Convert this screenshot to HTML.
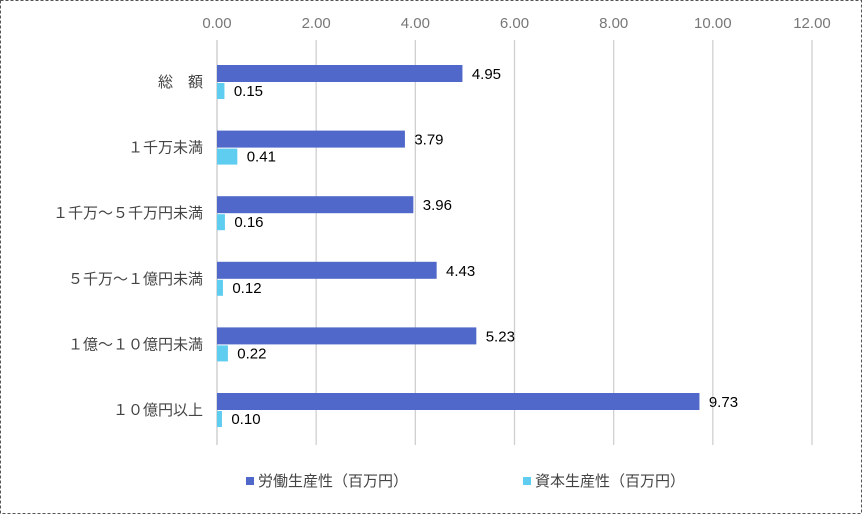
<!DOCTYPE html>
<html><head><meta charset="utf-8"><style>
body{margin:0;background:#fff;}
svg{display:block;font-family:"Liberation Sans","Noto Sans CJK JP",sans-serif;}
</style></head><body>
<svg id="chart" width="862" height="514">
<rect x="0.5" y="0.5" width="861" height="513" fill="#fff" stroke="#555" stroke-dasharray="3,2"/>
<g id="grid"></g><g id="bars"></g><g id="labels"></g>
<g>
<rect x="246" y="477" width="8" height="8" fill="#4f68c9"/>
<text x="258" y="486" font-size="15" fill="#444">労働生産性（百万円）</text>
<rect x="523" y="477" width="8" height="8" fill="#5fcdf0"/>
<text x="535" y="486" font-size="15" fill="#444">資本生産性（百万円）</text>
</g>
</svg>
<script>
const categories=["総　額","１千万未満","１千万～５千万円未満","５千万～１億円未満","１億～１０億円未満","１０億円以上"];
const labor=[4.95,3.79,3.96,4.43,5.23,9.73];
const capital=[0.15,0.41,0.16,0.12,0.22,0.10];
const ticks=[0,2,4,6,8,10,12];
const NS="http://www.w3.org/2000/svg";
const x=v=>217+v*(812-217)/12;
const y0=i=>65+i*65.6;
function mk(t,a,p){const e=document.createElementNS(NS,t);for(const k in a)e.setAttribute(k,a[k]);p.appendChild(e);return e;}
const g=document.getElementById('grid'),b=document.getElementById('bars'),l=document.getElementById('labels');
ticks.forEach(t=>{
const ln=mk('line',{x1:x(t),x2:x(t),y1:40,y2:445,stroke:'#d0d0d0','stroke-width':1.3},g);


const tx=mk('text',{x:x(t),y:28,'text-anchor':'middle','font-size':15,fill:'#777'},g);
tx.textContent=t.toFixed(2);


});
mk('line',{x1:217,x2:217,y1:40,y2:445,stroke:'#d0d0d0','stroke-width':1.3},g);
categories.forEach((c,i)=>{
const yy=y0(i);
const r1=mk('rect',{x:217,y:yy,width:x(labor[i])-217,height:17,fill:'#4f68c9'},b);


const r2=mk('rect',{x:217,y:yy+18,width:x(capital[i])-217,height:16,fill:'#5fcdf0'},b);


const t1=mk('text',{x:x(labor[i])+24,y:yy+14,'font-size':15,fill:'#000','text-anchor':'middle'},l);
t1.textContent=labor[i].toFixed(2);


const t2=mk('text',{x:x(capital[i])+24,y:yy+31,'font-size':15,fill:'#000','text-anchor':'middle'},l);
t2.textContent=capital[i].toFixed(2);


const cl=mk('text',{x:203,y:yy+22,'font-size':15,fill:'#444','text-anchor':'end'},l);
cl.textContent=c;


});
</script>
</body></html>
